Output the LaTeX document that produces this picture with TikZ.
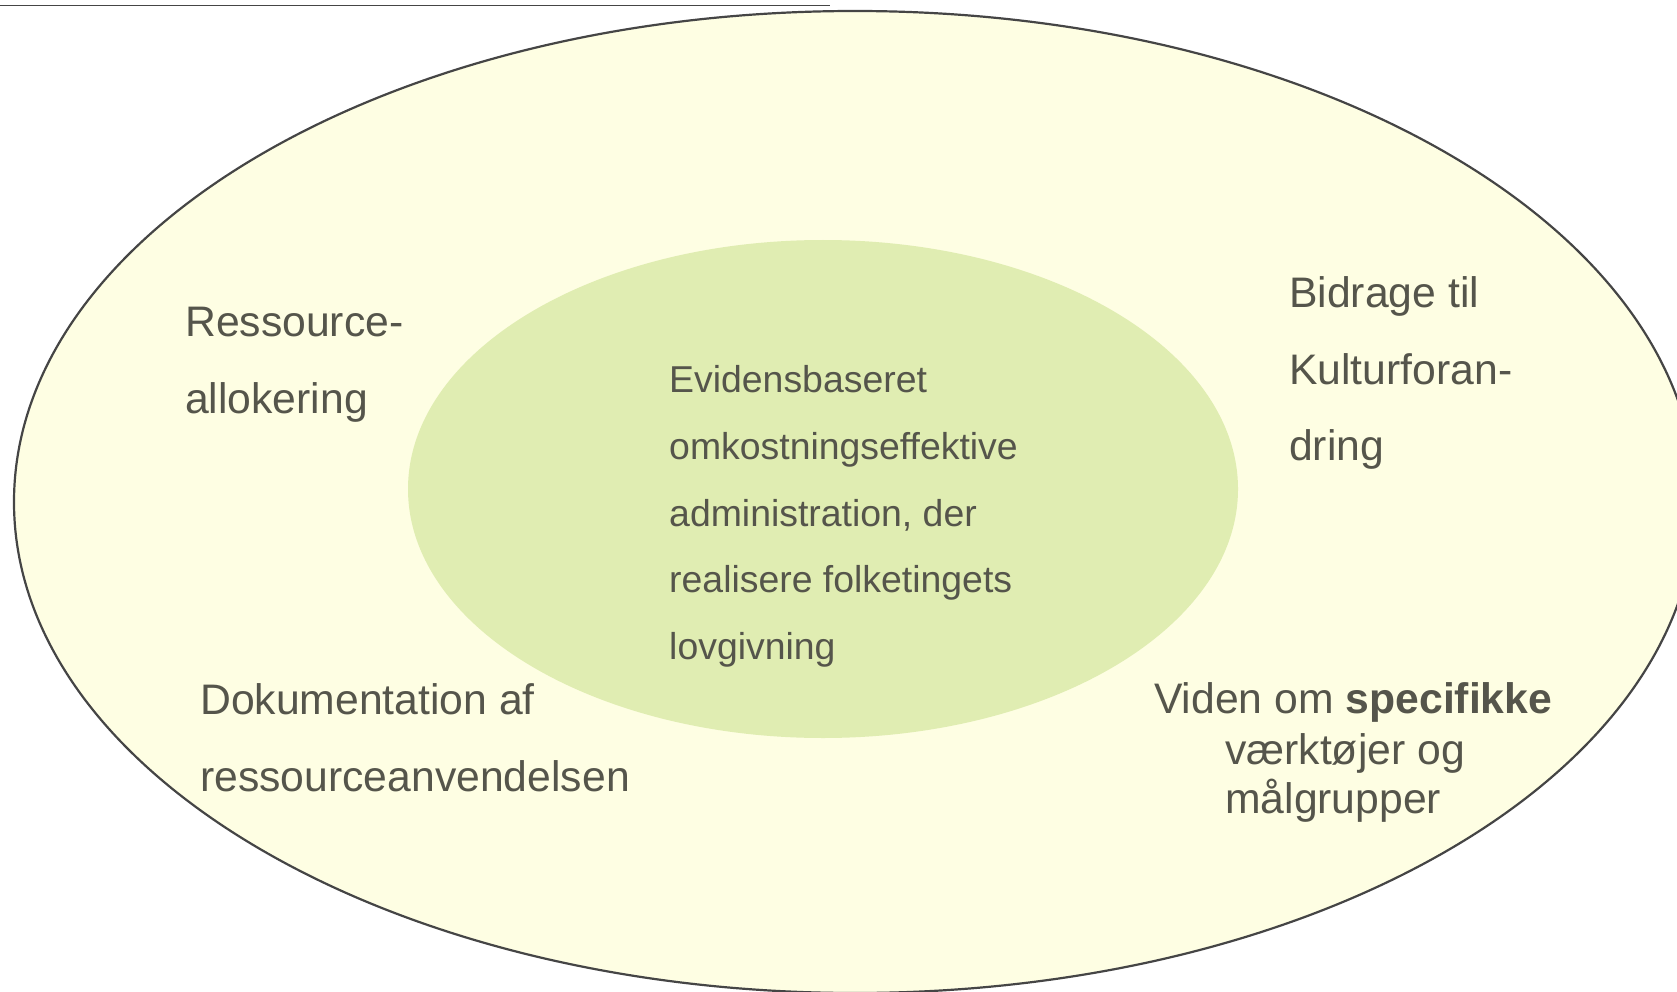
\documentclass[tikz,border=0pt]{standalone}
\usepackage{fontspec}
\setmainfont{Liberation Sans}
\definecolor{outerfill}{HTML}{FEFEE3}
\definecolor{innerfill}{HTML}{E0EDB2}
\definecolor{txt}{HTML}{55554B}
\definecolor{edge}{HTML}{454545}
\tikzset{
  big/.style={inner sep=0pt, anchor=base west, text=txt, font=\fontsize{42.7}{50}\selectfont},
  small/.style={inner sep=0pt, anchor=base west, text=txt, font=\fontsize{37.4}{44}\selectfont},
}
\begin{document}
\begin{tikzpicture}[x=1pt,y=-1pt]
\useasboundingbox (0,0) rectangle (1677,992);
\clip (0,0) rectangle (1677,992);
\draw[edge, line width=1.6pt] (0,5.5) -- (830,5.5);
\draw[edge, fill=outerfill, line width=2.2pt] (855,502) ellipse [x radius=841, y radius=491];
\fill[innerfill] (823,489) ellipse [x radius=415, y radius=249];
\node[big] (r1) at (185,336) {Ressource-};
\node[big] (r2) at (185,413) {allokering};
\node[big] (b1) at (1289,307) {Bidrage til};
\node[big] (b2) at (1289,384) {Kulturforan-};
\node[big] (b3) at (1289,460) {dring};
\node[big] (d1) at (200,714) {Dokumentation af};
\node[big] (d2) at (200,791) {ressourceanvendelsen};
\node[big] (v1) at (1154,713) {Viden om \textbf{specifikke}};
\node[big] (v2) at (1225,764) {værktøjer og};
\node[big] (v3) at (1225,813) {målgrupper};
\node[small] (e1) at (669,392) {Evidensbaseret};
\node[small] (e2) at (669,459) {omkostningseffektive};
\node[small] (e3) at (669,526) {administration, der};
\node[small] (e4) at (669,592) {realisere folketingets};
\node[small] (e5) at (669,659) {lovgivning};
\end{tikzpicture}
\end{document}
